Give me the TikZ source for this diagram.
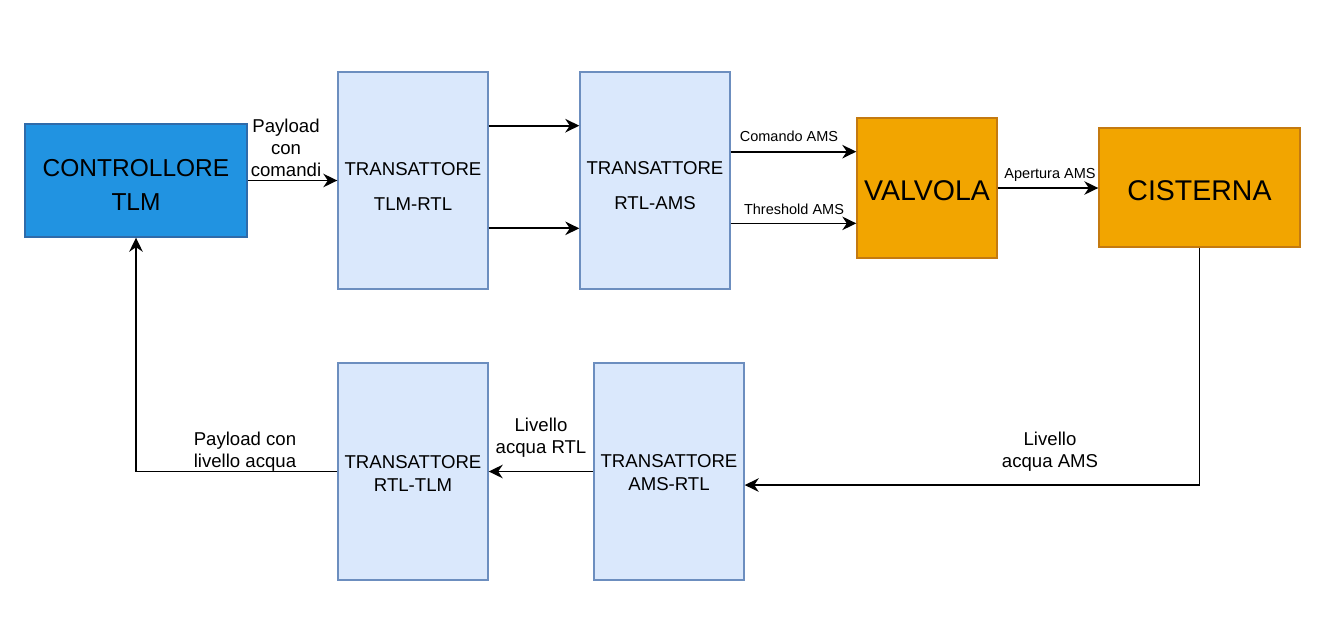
\documentclass[tikz,border=0pt]{standalone}
\usepackage{fontspec}
\setmainfont{Liberation Sans}
\usepackage[x11names]{xcolor}
\usetikzlibrary{calc, positioning, arrows.meta, backgrounds}
\definecolor{ctrlfill}{HTML}{2193E1}
\definecolor{ctrledge}{HTML}{2F6BAA}
\definecolor{tranfill}{HTML}{DAE8FC}
\definecolor{tranedge}{HTML}{6C8EBF}
\definecolor{amsfill}{HTML}{F2A500}
\definecolor{amsedge}{HTML}{C47A10}
\newcommand\fsz[2]{\fontsize{#1}{#2}\selectfont}% font size, line spacing

\begin{document}
\begin{tikzpicture}[x=1pt,y=-1pt,background rectangle/.style={fill=white},show background rectangle,
    ctrlbox/.style={draw=ctrledge,fill=ctrlfill,line width=1.4pt,inner sep=0pt},
    tranbox/.style={draw=tranedge,fill=tranfill,line width=1.4pt,inner sep=0pt,minimum width=150pt,minimum height=217pt},
    amsbox/.style={draw=amsedge,fill=amsfill,line width=1.4pt,inner sep=0pt},
    boxtxt/.style={align=center,inner sep=0pt,font=\fsz{18.6}{35}},
    wire/.style={line width=1.7pt,-{Stealth[length=14pt,width=13.5pt,inset=4.5pt]}},
    lbl/.style={align=center,inner sep=0pt,font=\fsz{18.6}{22}},
    slbl/.style={align=center,inner sep=0pt,font=\fsz{14.5}{18}}]
  \useasboundingbox (0,0) rectangle (1330,622);
  % upper chain
  \node[ctrlbox,minimum width=222pt,minimum height=113pt] (ctrl) at (136,180.5) {};
  \node[boxtxt,font=\fsz{24.5}{34}] (ctrltxt) at ([yshift=-4.5pt]ctrl.center) {CONTROLLORE\\TLM};
  \node[tranbox] (tlmrtl) at (413,180.5) {};
  \node[boxtxt] (tlmrtltxt) at ([yshift=-5.5pt]tlmrtl.center) {TRANSATTORE\\TLM-RTL};
  \node[tranbox] (rtlams) at (655,180.5) {};
  \node[boxtxt] (rtlamstxt) at ([yshift=-5.5pt]rtlams.center) {TRANSATTORE\\RTL-AMS};
  \node[amsbox,minimum width=140pt,minimum height=140pt] (valvola) at (927,188) {};
  \node[boxtxt,font=\fsz{28.5}{32}] (valvolatxt) at ([yshift=-3pt]valvola.center) {VALVOLA};
  \node[amsbox,minimum width=201pt,minimum height=119pt] (cisterna) at (1199.5,187.5) {};
  \node[boxtxt,font=\fsz{28.5}{32}] (cisternatxt) at ([yshift=-3pt]cisterna.center) {CISTERNA};
  % lower chain
  \node[tranbox] (rtltlm) at (413,471.5) {};
  \node[boxtxt,font=\fsz{18.6}{23}] (rtltlmtxt) at ([yshift=-1.5pt]rtltlm.center) {TRANSATTORE\\RTL-TLM};
  \node[tranbox] (amsrtl) at (669,471.5) {};
  \node[boxtxt,font=\fsz{18.6}{23}] (amsrtltxt) at ([yshift=-1.5pt]amsrtl.center) {TRANSATTORE\\AMS-RTL};

  \coordinate (T1) at ($(tlmrtl.north east)!0.249!(tlmrtl.south east)$);
  \coordinate (T2) at ($(tlmrtl.north east)!0.719!(tlmrtl.south east)$);
  \coordinate (V1) at ($(valvola.north west)!0.243!(valvola.south west)$);
  \coordinate (V2) at ($(valvola.north west)!0.75!(valvola.south west)$);
  \coordinate (A1) at ($(amsrtl.north east)!0.562!(amsrtl.south east)$);

  \draw[wire] (ctrl.east) -- (tlmrtl.west);
  \draw[wire] (T1) -- (rtlams.west |- T1);
  \draw[wire] (T2) -- (rtlams.west |- T2);
  \draw[wire] (rtlams.east |- V1) -- (V1);
  \draw[wire] (rtlams.east |- V2) -- (V2);
  \draw[wire] (valvola.east) -- (cisterna.west |- valvola.east);
  \draw[wire] (cisterna.south) |- (A1);
  \draw[wire] (amsrtl.west) -- (rtltlm.east);
  \draw[wire] (rtltlm.west) -| (ctrl.south);

  % labels on the wires
  \node[lbl] (lpay) at (286,148) {Payload\\con\\comandi};
  \node[slbl] (lcom) at (789,136) {Comando AMS};
  \node[slbl] (lthr) at (794,209) {Threshold AMS};
  \node[slbl] (lape) at (1050,175) {Apertura AMS};
  \node[lbl] (llvams) at (1050,452) {Livello\\acqua AMS};
  \node[lbl] (llvrtl) at (541,438) {Livello\\acqua RTL};
  \node[lbl] (lpayl) at (245,452) {Payload con\\livello acqua};
\end{tikzpicture}
\end{document}
